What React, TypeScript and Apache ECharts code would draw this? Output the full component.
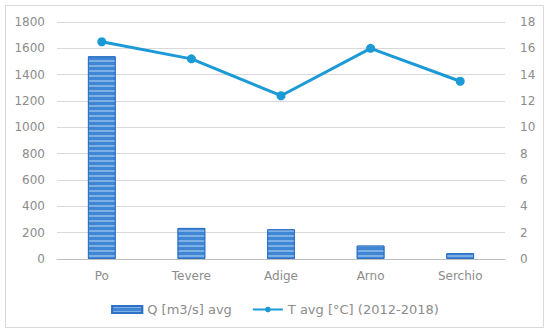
import React, { useEffect, useRef } from "react";
import * as echarts from "echarts";

const categories = ["Po", "Tevere", "Adige", "Arno", "Serchio"];
const flowValues = [1540, 236, 226, 102, 44];
const tempValues = [16.5, 15.2, 12.4, 16.0, 13.5];
const flowName = "Q [m3/s] avg";
const tempName = "T avg [°C] (2012-2018)";

const FONT = "'DejaVu Sans', Lato, sans-serif";
const GRAY = "#8c8c8c";

export default function App() {
  const ref = useRef<HTMLDivElement>(null);
  useEffect(() => {
    if (!ref.current) return;
    const chart = echarts.init(ref.current, undefined, { renderer: "svg" });
    chart.setOption({
      animation: false,
      backgroundColor: "#ffffff",
      textStyle: { fontFamily: FONT },
      graphic: [
        {
          type: "rect",
          shape: { x: 5.5, y: 5.5, width: 538, height: 322 },
          style: { fill: "none", stroke: "#d9d9d9", lineWidth: 1 },
          silent: true,
        },
      ],
      grid: { left: 57, right: 45, top: 22, bottom: 75 },
      legend: {
        top: 298,
        left: "center",
        itemGap: 20,
        itemWidth: 30,
        itemHeight: 7,
        textStyle: { color: GRAY, fontSize: 13, fontFamily: FONT },
        data: [
          { name: flowName, icon: "rect" },
          { name: tempName },
        ],
      },
      xAxis: {
        type: "category",
        data: categories,
        axisTick: { show: false },
        axisLine: { lineStyle: { color: "#bfbfbf", width: 1 } },
        axisLabel: { color: GRAY, fontSize: 12, margin: 11, fontFamily: FONT },
      },
      yAxis: [
        {
          type: "value",
          min: 0,
          max: 1800,
          interval: 200,
          axisLabel: {
            color: GRAY,
            fontSize: 12,
            margin: 12,
            fontFamily: FONT,
            formatter: (v: number) => String(v),
          },
          splitLine: { lineStyle: { color: "#d9d9d9", width: 1 } },
          axisLine: { show: false },
          axisTick: { show: false },
        },
        {
          type: "value",
          min: 0,
          max: 18,
          interval: 2,
          position: "right",
          axisLabel: { color: GRAY, fontSize: 12, margin: 15, fontFamily: FONT },
          splitLine: { show: false },
          axisLine: { show: false },
          axisTick: { show: false },
        },
      ],
      series: [
        {
          name: flowName,
          type: "bar",
          data: flowValues,
          barWidth: "31%",
          itemStyle: {
            color: "#3f86d4",
            borderColor: "#2f72c4",
            borderWidth: 1,
            decal: {
              symbol: "rect",
              dashArrayX: [1, 0],
              dashArrayY: [2, 3],
              rotation: 0,
              color: "rgba(190,215,245,0.5)",
            },
          },
        },
        {
          name: tempName,
          type: "line",
          yAxisIndex: 1,
          data: tempValues,
          symbol: "circle",
          symbolSize: 9,
          lineStyle: { color: "#1c9ad6", width: 3 },
          itemStyle: { color: "#1c9ad6" },
        },
      ],
    });
    return () => chart.dispose();
  }, []);
  return <div ref={ref} style={{ width: 550, height: 334, position: "absolute", left: 0, top: 0 }} />;
}
